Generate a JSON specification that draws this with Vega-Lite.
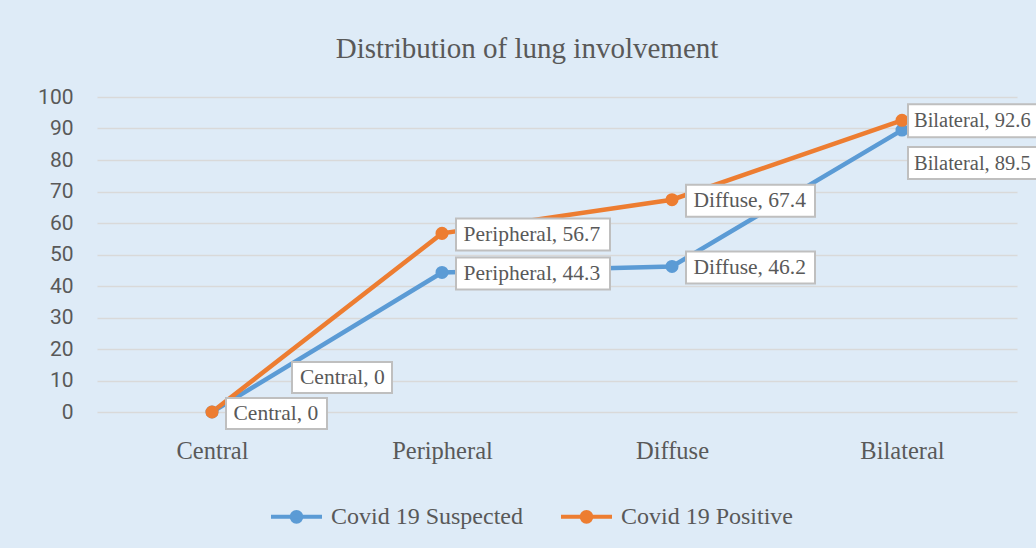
{
  "$schema": "https://vega.github.io/schema/vega-lite/v6.json",
  "width": 920,
  "height": 315,
  "autosize": "none",
  "padding": {"left": 97, "top": 97, "right": 19, "bottom": 136},
  "background": "#DEEBF7",
  "config": {
    "view": {"stroke": null},
    "font": "Liberation Serif"
  },
  "title": {
    "text": "Distribution of lung involvement",
    "font": "Liberation Serif",
    "fontSize": 29,
    "fontWeight": "normal",
    "color": "#595959",
    "anchor": "middle",
    "dx": -30,
    "offset": 22
  },
  "data": {
    "values": [
      {"category": "Central", "series": "Covid 19 Suspected", "value": 0},
      {"category": "Peripheral", "series": "Covid 19 Suspected", "value": 44.3},
      {"category": "Diffuse", "series": "Covid 19 Suspected", "value": 46.2},
      {"category": "Bilateral", "series": "Covid 19 Suspected", "value": 89.5},
      {"category": "Central", "series": "Covid 19 Positive", "value": 0},
      {"category": "Peripheral", "series": "Covid 19 Positive", "value": 56.7},
      {"category": "Diffuse", "series": "Covid 19 Positive", "value": 67.4},
      {"category": "Bilateral", "series": "Covid 19 Positive", "value": 92.6}
    ]
  },
  "transform": [
    {"calculate": "datum.category + ', ' + datum.value", "as": "label"}
  ],
  "encoding": {
    "x": {
      "field": "category",
      "type": "nominal",
      "sort": ["Central", "Peripheral", "Diffuse", "Bilateral"],
      "scale": {"type": "point", "padding": 0.5},
      "axis": {
        "title": null,
        "labelAngle": 0,
        "labelFont": "Liberation Serif",
        "labelFontSize": 24.5,
        "labelColor": "#595959",
        "labelPadding": 27,
        "ticks": false,
        "domain": false,
        "grid": false
      }
    },
    "y": {
      "field": "value",
      "type": "quantitative",
      "scale": {"domain": [0, 100], "nice": false},
      "axis": {
        "title": null,
        "values": [0, 10, 20, 30, 40, 50, 60, 70, 80, 90, 100],
        "labelFont": "Roboto",
        "labelFontSize": 21,
        "labelColor": "#595959",
        "labelPadding": 24,
        "ticks": false,
        "domain": false,
        "grid": true,
        "gridColor": "#D9D9D9",
        "gridWidth": 1.5
      }
    }
  },
  "layer": [
    {
      "mark": {"type": "line", "strokeWidth": 4.5, "point": {"filled": true, "size": 170}},
      "encoding": {
        "color": {
          "field": "series",
          "type": "nominal",
          "sort": ["Covid 19 Suspected", "Covid 19 Positive"],
          "scale": {"domain": ["Covid 19 Suspected", "Covid 19 Positive"], "range": ["#5B9BD5", "#ED7D31"]},
          "legend": {
            "title": null,
            "orient": "none",
            "direction": "horizontal",
            "legendX": 172,
            "legendY": 392,
            "labelFont": "Liberation Serif",
            "labelFontSize": 24,
            "labelColor": "#595959",
            "labelLimit": 400,
            "labelOffset": 7,
            "columnPadding": 30,
            "symbolType": "M-1,0L1,0M-0.19,0A0.19,0.19,0,1,1,0.19,0A0.19,0.19,0,1,1,-0.19,0Z",
            "symbolSize": 2601,
            "symbolStrokeWidth": 4,
            "encode": {
              "symbols": {
                "update": {
                  "fill": {"scale": "color", "field": "value"},
                  "stroke": {"scale": "color", "field": "value"},
                  "opacity": {"value": 1}
                }
              }
            }
          }
        }
      }
    },
    {
      "transform": [{"filter": "datum.category == 'Peripheral'"}],
      "mark": {"type": "rect", "fill": "white", "stroke": "#BFBFBF", "strokeWidth": 2, "xOffset": 14, "x2Offset": 168, "yOffset": -15, "y2Offset": 17},
      "encoding": {"x2": {"field": "category"}, "y2": {"field": "value"}}
    },
    {
      "transform": [{"filter": "datum.category == 'Diffuse'"}],
      "mark": {"type": "rect", "fill": "white", "stroke": "#BFBFBF", "strokeWidth": 2, "xOffset": 14, "x2Offset": 143, "yOffset": -15, "y2Offset": 17},
      "encoding": {"x2": {"field": "category"}, "y2": {"field": "value"}}
    },
    {
      "transform": [{"filter": "datum.category == 'Central' && datum.series == 'Covid 19 Positive'"}],
      "mark": {"type": "rect", "fill": "white", "stroke": "#BFBFBF", "strokeWidth": 2, "xOffset": 14, "x2Offset": 115, "yOffset": -14, "y2Offset": 17},
      "encoding": {"x2": {"field": "category"}, "y2": {"field": "value"}}
    },
    {
      "transform": [{"filter": "datum.category == 'Central' && datum.series == 'Covid 19 Suspected'"}],
      "mark": {"type": "rect", "fill": "white", "stroke": "#BFBFBF", "strokeWidth": 2, "xOffset": 80, "x2Offset": 180, "yOffset": -50, "y2Offset": -19},
      "encoding": {"x2": {"field": "category"}, "y2": {"field": "value"}}
    },
    {
      "transform": [{"filter": "datum.category == 'Bilateral' && datum.series == 'Covid 19 Positive'"}],
      "mark": {"type": "rect", "fill": "white", "stroke": "#BFBFBF", "strokeWidth": 2, "xOffset": 6, "x2Offset": 145, "yOffset": -16, "y2Offset": 17},
      "encoding": {"x2": {"field": "category"}, "y2": {"field": "value"}}
    },
    {
      "transform": [{"filter": "datum.category == 'Bilateral' && datum.series == 'Covid 19 Suspected'"}],
      "mark": {"type": "rect", "fill": "white", "stroke": "#BFBFBF", "strokeWidth": 2, "xOffset": 6, "x2Offset": 145, "yOffset": 17, "y2Offset": 49},
      "encoding": {"x2": {"field": "category"}, "y2": {"field": "value"}}
    },
    {
      "transform": [{"filter": "datum.category == 'Peripheral' || datum.category == 'Diffuse' || (datum.category == 'Central' && datum.series == 'Covid 19 Positive')"}],
      "mark": {"type": "text", "align": "left", "baseline": "middle", "dx": 21.5, "dy": 1.5, "font": "Liberation Serif", "fontSize": 21.5, "color": "#595959"},
      "encoding": {"text": {"field": "label"}}
    },
    {
      "transform": [{"filter": "datum.category == 'Central' && datum.series == 'Covid 19 Suspected'"}],
      "mark": {"type": "text", "align": "left", "baseline": "middle", "dx": 88, "dy": -34, "font": "Liberation Serif", "fontSize": 21.5, "color": "#595959"},
      "encoding": {"text": {"field": "label"}}
    },
    {
      "transform": [{"filter": "datum.category == 'Bilateral' && datum.series == 'Covid 19 Positive'"}],
      "mark": {"type": "text", "align": "left", "baseline": "middle", "dx": 12, "dy": 1, "font": "Liberation Serif", "fontSize": 20.5, "color": "#595959"},
      "encoding": {"text": {"field": "label"}}
    },
    {
      "transform": [{"filter": "datum.category == 'Bilateral' && datum.series == 'Covid 19 Suspected'"}],
      "mark": {"type": "text", "align": "left", "baseline": "middle", "dx": 12, "dy": 34, "font": "Liberation Serif", "fontSize": 20.5, "color": "#595959"},
      "encoding": {"text": {"field": "label"}}
    }
  ]
}
